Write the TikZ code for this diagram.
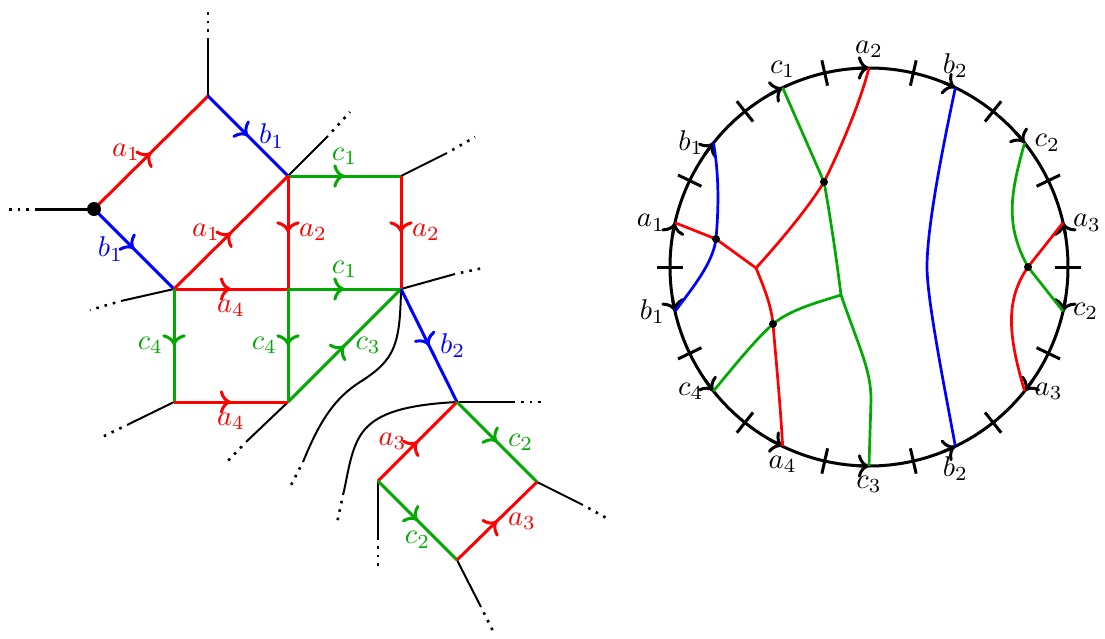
\documentclass[tikz,border=0pt]{standalone}
\usepackage{amsmath}
\usepackage{amssymb}
\usetikzlibrary{arrows.meta, decorations.markings}
\definecolor{grn}{RGB}{0,170,0}
\tikzset{
  arr/.style={line width=1.05pt, postaction={decorate},
    decoration={markings, mark=at position .5 with {\arrow{To}}}},
  stub/.style={line width=0.7pt},
  dotstub/.style={line width=0.9pt, dash pattern=on 0.9pt off 2.1pt, dash phase=0.9pt},
  rim/.style={line width=1.05pt},
  strand/.style={line width=0.95pt},
}

\begin{document}
\begin{tikzpicture}[x=0.35pt, y=-0.35pt]
  \useasboundingbox (0,0) rectangle (1105,638);

  \coordinate (p0) at (94,209);
  \coordinate (t) at (208,96);
  \coordinate (v1) at (288,176);
  \coordinate (v2) at (174,289);
  \coordinate (v3) at (401,176);
  \coordinate (v4) at (288,289);
  \coordinate (v5) at (401,289);
  \coordinate (v6) at (174,402);
  \coordinate (v7) at (288,402);
  \coordinate (v8) at (457,402);
  \coordinate (v9) at (378,481);
  \coordinate (v10) at (537,482);
  \coordinate (v11) at (457,560);

  \coordinate (sp0) at (35,209);
  \coordinate (dp0) at (8,209);
  \draw[stub, line width=1.05pt] (p0) -- (sp0);
  \draw[dotstub, line width=1.05pt] (sp0) -- (dp0);
  \foreach \v/\sx/\sy/\dx/\dy in {t/208/38/208/8, v1/328/136/350/112,
      v3/447/153/475/137, v5/455/274/483/268, v2/121/301/90/310,
      v6/127/425/100/438, v7/246/442/225/464, v8/515/402/545/402,
      v9/378/540/378/570, v10/583/505/610/520, v11/481/607/494/633} {
    \coordinate (s\v) at (\sx,\sy);
    \coordinate (d\v) at (\dx,\dy);
    \draw[stub] (\v) -- (s\v);
    \draw[dotstub] (s\v) -- (d\v);
  }

  \coordinate (k1) at (303,462);
  \coordinate (dk1) at (290,487);
  \coordinate (k2) at (343,495);
  \coordinate (dk2) at (337,523);
  \draw[stub] (v5) .. controls (400,345) and (395,360) .. (360,382)
    .. controls (335,398) and (320,420) .. (k1);
  \draw[dotstub] (k1) -- (dk1);
  \draw[stub] (v8) .. controls (400,405) and (375,415) .. (362,433)
    .. controls (350,450) and (348,475) .. (k2);
  \draw[dotstub] (k2) -- (dk2);

  \draw[arr, red] (p0) -- node[left] (la1) {$a_1$} (t);
  \draw[arr, blue] (t) -- node[right] (lb1) {$b_1$} (v1);
  \draw[arr, blue] (p0) -- node[left] (lb1b) {$b_1$} (v2);
  \draw[arr, red] (v2) -- node[left] (la1b) {$a_1$} (v1);
  \draw[arr, grn] (v1) -- node[above] (lc1) {$c_1$} (v3);
  \draw[arr, red] (v1) -- node[right] (la2) {$a_2$} (v4);
  \draw[arr, red] (v3) -- node[right] (la2b) {$a_2$} (v5);
  \draw[arr, red] (v2) -- node[below] (la4) {$a_4$} (v4);
  \draw[arr, grn] (v4) -- node[above] (lc1b) {$c_1$} (v5);
  \draw[arr, grn] (v2) -- node[left] (lc4) {$c_4$} (v6);
  \draw[arr, grn] (v4) -- node[left] (lc4b) {$c_4$} (v7);
  \draw[arr, red] (v6) -- node[below] (la4b) {$a_4$} (v7);
  \draw[arr, grn] (v7) -- node[right] (lc3) {$c_3$} (v5);
  \draw[arr, blue] (v5) -- node[right] (lb2) {$b_2$} (v8);
  \draw[arr, red] (v9) -- node[left] (la3) {$a_3$} (v8);
  \draw[arr, grn] (v8) -- node[right] (lc2) {$c_2$} (v10);
  \draw[arr, grn] (v9) -- node[below] (lc2b) {$c_2$} (v11);
  \draw[arr, red] (v11) -- node[right] (la3b) {$a_3$} (v10);
  \fill (p0) circle[radius=7];

  \begin{scope}[shift={(869,267)}, y=0.35pt]
    \draw[rim] (0,0) circle[radius=199];
    \foreach \k/\lab/\dir/\anc in {0/a_2/1/south, 1/b_2/1/south, 2/c_2/1/west,
        3/a_3/-1/west, 4/c_2/1/west, 5/a_3/1/west, 6/b_2/-1/north,
        7/c_3/-1/north, 8/a_4/-1/north, 9/c_4/-1/east, 10/b_1/-1/east,
        11/a_1/1/east, 12/b_1/1/east, 13/c_1/1/south} {
      \pgfmathsetmacro\ang{90-\k*360/14}
      \pgfmathsetmacro\tang{\ang-180/14}
      \coordinate (e\k) at (\ang:199);
      \draw[rim, -{To}] ({\ang+\dir*4}:199)
        arc[start angle={\ang+\dir*4}, end angle=\ang, radius=199];
      \draw[rim] (\tang:186) -- (\tang:212);
      \node[anchor=\anc] (l\k) at (e\k) {$\lab$};
    }
  \end{scope}

  \coordinate (d1) at (716,239);
  \coordinate (d2) at (824,182);
  \coordinate (d3) at (773,324);
  \coordinate (d4) at (1028,267);
  \coordinate (j1) at (756,268);
  \coordinate (j2) at (841,295);

  \draw[strand, red] (e11) -- (d1) -- (j1);
  \draw[strand, red] (j1) .. controls (785,236) and (810,205) .. (d2)
    .. controls (835,160) and (858,110) .. (e0);
  \draw[strand, red] (j1) .. controls (765,290) and (771,305) .. (d3)
    .. controls (776,360) and (780,400) .. (e8);
  \draw[strand, blue] (e12) .. controls (720,180) and (718,215) .. (d1)
    .. controls (713,262) and (695,285) .. (e10);
  \draw[strand, grn] (e13) -- (d2) .. controls (830,215) and (836,255) .. (j2);
  \draw[strand, grn] (j2) .. controls (860,350) and (871,370) .. (871,400) -- (e7);
  \draw[strand, grn] (j2) .. controls (815,303) and (790,310) .. (d3)
    .. controls (755,340) and (735,365) .. (e9);
  \draw[strand, blue] (e1) .. controls (940,160) and (927,230) .. (927,267)
    .. controls (927,300) and (945,390) .. (e6);
  \draw[strand, grn] (e2) .. controls (1010,195) and (1005,225) .. (d4) -- (e4);
  \draw[strand, red] (e3) -- (d4) .. controls (1005,300) and (1008,335) .. (e5);
  \foreach \p in {d1,d2,d3,d4}
    \fill (\p) circle[radius=4];
\end{tikzpicture}
\end{document}
